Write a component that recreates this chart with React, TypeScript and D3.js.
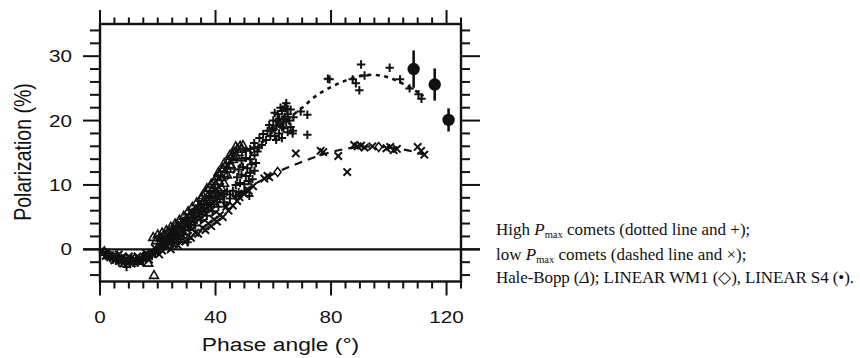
import React from "react";
import * as d3 from "d3";

// ---- axis ticks ----
const xMajorTicks = [0, 40, 80, 120];
const yMajorTicks = [0, 10, 20, 30];
const xMinorTicks = d3.range(0, 126, 5);
const yMinorTicks = d3.range(-4, 35, 2);

// ---- High Pmax comets (+) ----
const highPmaxPoints: [number, number][] = [
  [1, -0.4], [1.5, -0.9], [2, -0.5], [2.5, -1.2], [3, -0.8], [3.5, -1.4], [4, -1.0], [4.5, -1.6],
  [5, -1.2], [5.5, -1.8], [6, -1.4], [6.5, -2.0], [7, -1.5], [7.5, -2.1], [8, -1.7], [8.5, -1.3],
  [9, -2.0], [9.2, -2.75], [10, -1.8], [10.5, -2.3], [11, -1.6], [11.5, -2.1], [12, -1.9], [12.5, -1.5],
  [13, -2.0], [13.5, -1.6], [14, -1.8], [14.5, -1.3], [15, -1.5], [15.5, -1.0], [16, -1.4], [16.5, -0.9],
  [17, -1.2], [17.5, -0.6], [18, -1.0], [18.5, -0.4], [19, -0.7], [19.5, -0.1], [20, -0.4], [20.5, 0.3],
  [21, 0.6], [21.5, 0.2], [22, 1.0], [22.5, 0.5], [23, 1.4], [23.5, 0.9], [24, 1.7], [24.5, 1.2],
  [25, 2.1], [25.5, 1.5], [26, 2.4], [26.5, 1.9], [27, 2.8], [27.5, 2.2], [28, 3.2], [28.5, 2.6],
  [29, 3.6], [29.5, 3.0], [30, 4.0], [30.3, 1.1], [30.5, 3.4], [31, 4.4], [31.5, 3.8], [32, 4.8],
  [32.5, 4.2], [33, 5.2], [33.5, 4.6], [34, 5.6], [34.5, 5.0], [35, 6.0], [35.5, 5.4], [36, 6.4],
  [36.5, 5.8], [37, 6.8], [37.5, 6.2], [38, 7.2], [38.5, 6.6], [39, 7.6], [39.5, 7.0], [40, 8.0],
  [40.5, 7.4], [41, 8.4], [41.5, 7.8], [42, 8.8], [42.5, 8.2], [43, 8.6], [44, 9.0], [45, 8.5],
  [46, 9.1], [47, 8.3], [48, 8.9], [49, 8.6], [50, 9.0], [51.7, 8.3],
  [22, 1.5], [24, 2.3], [26, 3.0], [28, 4.0], [30, 4.9], [32, 5.8], [34, 6.7], [36, 7.5], [38, 8.3],
  [25, 1.0], [27, 1.7], [29, 2.3], [31, 3.0], [33, 3.7], [35, 4.5], [37, 5.2], [39, 5.9], [41, 6.6],
  [43, 7.3], [45, 7.9],
  [47, 10.0], [48.5, 10.3], [50, 10.1], [51.5, 10.6], [52.8, 10.9], [47.5, 11.2], [49, 11.6], [50.5, 11.4],
  [52, 11.9], [53.5, 12.2], [48, 12.4], [49.5, 12.8], [51, 12.6], [52.5, 13.2], [54, 13.4], [49, 13.8],
  [50.5, 14.2], [52, 14.0], [53.5, 14.6], [50.5, 15.3], [52, 15.6], [53.5, 15.8], [54.5, 15.2],
  [53.4, 16.5], [55.2, 17.3], [56, 16.2], [56.5, 17.9], [57.5, 17.0], [58, 18.4], [58.6, 19.3], [59, 17.6], [55, 15.8],
  [59.5, 18.5], [60, 20.0], [60.5, 17.6], [61, 19.2], [61.5, 21.0], [62, 18.0], [62, 20.3], [62.5, 19.5],
  [63, 21.5], [63, 17.3], [63.5, 18.8], [64, 20.6], [64, 22.2], [64.5, 19.8], [64.5, 22.7], [65, 21.0],
  [65, 18.2], [65.5, 20.0], [66, 21.7], [66, 19.0], [66.7, 18.0], [67, 20.5], [63.5, 20.2], [62.5, 22.0],
  [61, 17.0], [60, 18.8], [61.5, 19.9], [63, 19.0], [64.8, 21.8], [60.5, 21.2],
  [69.5, 21.4], [71.8, 20.9], [66.8, 18.4], [71.8, 17.8],
  [78.9, 26.5], [79.5, 26.4], [87.5, 26.4], [88.6, 25.8], [89.8, 24.7], [90.4, 28.7], [91.6, 27.0],
  [100.3, 28.2], [103.9, 26.4], [107.2, 25.0], [110.3, 24.1], [111.3, 23.4],
];

// ---- Low Pmax comets (x) ----
const lowPmaxPoints: [number, number][] = [
  [2, -1.0], [3, -1.0], [5, -1.7], [6.5, -0.8], [7, -1.4], [8, -2.2], [10, -1.1], [11, -2.2], [12, -1.5],
  [13, -1.1], [14, -2.1], [16, -1.0], [16, -0.6], [17, -1.6], [19, 0.2], [20.5, -0.8],
  [21.5, -0.2], [23, 0.3], [24.5, 0.0], [25.5, 0.8], [27, 0.6], [28, 1.4], [29.5, 1.2], [30.5, 2.1],
  [31.5, 1.8], [33, 2.6], [34, 2.4], [35.5, 3.3], [36.5, 3.0], [37.5, 4.0], [38.5, 3.6], [39.5, 4.6],
  [40.5, 4.3], [41.5, 5.3], [42.5, 5.0], [43.7, 6.6], [44.5, 6.0], [46, 6.8], [47.5, 7.5], [48.3, 8.1],
  [50, 8.6], [51.5, 9.1], [53, 9.8],
  [56.9, 11.0], [58, 11.4], [58.6, 11.2], [67.8, 14.9], [76.4, 15.3], [77.3, 15.1], [82.5, 14.5],
  [85.6, 12.0], [88, 16.2], [89.2, 16.0], [90.4, 16.1], [91.6, 15.8], [94.3, 16.0], [99.2, 15.7],
  [100.5, 15.9], [101.7, 15.4], [102.8, 15.6], [110, 15.9], [111.2, 15.3], [112.3, 14.7],
];

// ---- Hale-Bopp (triangles) ----
const haleBoppPoints: [number, number][] = [
  [1.5, -0.3], [3, -0.7], [4.5, -1.1], [6, -1.0], [7.5, -1.5], [9, -1.4], [10.5, -1.7], [12, -1.4],
  [13.5, -1.8], [15, -1.2], [16.7, -2.1], [18.7, -4.0],
  [18.4, 1.9], [19.5, 1.4], [20, 2.3], [21, 1.8], [21.5, 2.6], [22.5, 2.2], [22.8, 1.6], [23, 3.0],
  [24, 2.7], [24.5, 3.5], [25.5, 3.2], [26, 4.0], [27, 3.7], [27.5, 4.6], [28.5, 4.2], [29, 5.2],
  [30, 4.8], [30.5, 5.9], [31.5, 5.5], [32, 6.6], [33, 6.1], [33.5, 7.3], [34.5, 6.9], [35, 8.0],
  [35.6, 8.4], [36, 7.6], [36.5, 8.8], [37.5, 8.4], [38, 9.6], [38.5, 10.2], [39, 9.2], [39.5, 10.6],
  [40, 10.0], [40.5, 11.3], [41, 10.6], [41.5, 11.8], [42, 11.2], [42.5, 12.5], [43, 11.8], [43.5, 13.1],
  [44, 12.5], [44.5, 13.8], [45, 13.2], [45.5, 14.5], [46, 14.0], [46.5, 15.1], [47, 14.6], [47.5, 15.6],
  [48, 15.1], [48.5, 16.1], [49, 15.6], [49.5, 16.2], [43, 10.3], [42, 9.6], [41, 9.2], [40, 8.8],
  [21, 1.2], [23, 1.9], [25, 2.6], [27, 3.3], [29, 4.1], [31, 4.9], [33, 5.7], [35, 6.6], [37, 7.5], [39, 8.4],
  [37, 9.5], [41, 12.0], [43, 13.4], [45, 14.7], [47, 16.0], [44, 11.6], [45.5, 13.0], [46.5, 14.3],
];

// ---- LINEAR WM1 (diamonds) ----
const wm1Points: [number, number][] = [[61.5, 12.0], [96.5, 15.9]];

// ---- LINEAR S4 (filled circles with error bars) ----
const s4Points: [number, number, number][] = [[108.6, 28.0, 2.9], [115.9, 25.6, 2.5], [120.7, 20.1, 1.8]];

// ---- fitted curves ----
const highFit: [number, number][] = [
  [0, 0], [3, -0.9], [6, -1.4], [9, -1.7], [12, -1.7], [15, -1.4], [18, -0.8], [21, 0.2], [25, 1.8],
  [30, 4.0], [35, 6.4], [40, 8.9], [45, 11.4], [50, 13.8], [55, 16.1], [60, 18.2], [65, 20.2], [70, 22.0],
  [75, 23.9], [80, 25.2], [85, 26.2], [90, 26.9], [95, 27.1], [100, 26.7], [105, 25.7], [110, 24.4], [112, 23.8],
];
const lowFit: [number, number][] = [
  [0, 0], [3, -0.8], [6, -1.3], [9, -1.6], [12, -1.6], [15, -1.3], [18, -0.7], [21, 0.1], [25, 1.1],
  [30, 2.6], [35, 4.1], [40, 5.7], [45, 7.4], [50, 9.1], [55, 10.5], [60, 11.7], [65, 12.7], [70, 13.6],
  [75, 14.4], [80, 15.1], [85, 15.6], [90, 15.9], [95, 16.0], [100, 15.8], [105, 15.5], [110, 15.0], [114.5, 14.3],
];

const INK = "#111";
const SANS = "'Liberation Sans', Arial, Helvetica, sans-serif";
const SERIF = "'Liberation Serif', 'Times New Roman', Times, serif";

export default function App() {
  const x = d3.scaleLinear().domain([0, 125]).range([100, 461]);
  const y = d3.scaleLinear().domain([-5, 35]).range([281.5, 24]);
  const [x0, x1] = x.range();
  const [yb, yt] = y.range();

  const line = d3
    .line<[number, number]>()
    .x((d) => x(d[0]))
    .y((d) => y(d[1]))
    .curve(d3.curveCatmullRom);

  const plus = (d: [number, number]) => {
    const cx = x(d[0]), cy = y(d[1]), r = 4.2;
    return `M${cx - r},${cy}H${cx + r}M${cx},${cy - r}V${cy + r}`;
  };
  const times = (d: [number, number]) => {
    const cx = x(d[0]), cy = y(d[1]), r = 3.7;
    return `M${cx - r},${cy - r}L${cx + r},${cy + r}M${cx - r},${cy + r}L${cx + r},${cy - r}`;
  };
  const tri = (d: [number, number]) => {
    const cx = x(d[0]), cy = y(d[1]), s = 4.4;
    return `M${cx},${cy - s}L${cx + s},${cy + s * 0.75}L${cx - s},${cy + s * 0.75}Z`;
  };
  const diamond = (d: [number, number]) => {
    const cx = x(d[0]), cy = y(d[1]);
    return `M${cx},${cy - 4.5}L${cx + 3.5},${cy}L${cx},${cy + 4.5}L${cx - 3.5},${cy}Z`;
  };

  const isMajorX = (v: number) => xMajorTicks.includes(v);
  const isMajorY = (v: number) => yMajorTicks.includes(v);

  return (
    <svg
      width={860}
      height={358}
      viewBox="0 0 860 358"
      style={{ position: "absolute", left: 0, top: 0, background: "#fff" }}
    >
      <rect x={0} y={0} width={860} height={358} fill="#fff" />

      {/* fitted curves */}
      <path d={line(highFit) || ""} fill="none" stroke={INK} strokeWidth={2.6} strokeDasharray="4,4.5" />
      <path d={line(lowFit) || ""} fill="none" stroke={INK} strokeWidth={2.2} strokeDasharray="8,6" />

      {/* zero line */}
      <line x1={83} x2={480} y1={y(0)} y2={y(0)} stroke={INK} strokeWidth={2.2} />

      {/* data */}
      <g fill="none" stroke={INK} strokeWidth={1.6}>
        {haleBoppPoints.map((d, i) => (
          <path key={"t" + i} d={tri(d)} />
        ))}
      </g>
      <g fill="none" stroke={INK} strokeWidth={2}>
        {highPmaxPoints.map((d, i) => (
          <path key={"p" + i} d={plus(d)} />
        ))}
        {lowPmaxPoints.map((d, i) => (
          <path key={"x" + i} d={times(d)} />
        ))}
      </g>
      <g fill="#fff" stroke={INK} strokeWidth={1.5}>
        {wm1Points.map((d, i) => (
          <path key={"d" + i} d={diamond(d)} />
        ))}
      </g>
      <g>
        {s4Points.map((d, i) => (
          <g key={"s" + i}>
            <line x1={x(d[0])} x2={x(d[0])} y1={y(d[1] + d[2])} y2={y(d[1] - d[2])} stroke={INK} strokeWidth={2.6} />
            <circle cx={x(d[0])} cy={y(d[1])} r={6.2} fill={INK} />
          </g>
        ))}
      </g>

      {/* frame */}
      <rect x={x0} y={yt} width={x1 - x0} height={yb - yt} fill="none" stroke={INK} strokeWidth={2.4} />

      {/* ticks (outward on all four sides) */}
      <g stroke={INK} strokeWidth={2}>
        {xMinorTicks.map((v) => (
          <g key={"xt" + v}>
            <line x1={x(v)} x2={x(v)} y1={yb} y2={yb + (isMajorX(v) ? 14 : 7)} />
            <line x1={x(v)} x2={x(v)} y1={yt} y2={yt - (isMajorX(v) ? 14 : 6.5)} />
          </g>
        ))}
        {yMinorTicks.map((v) => (
          <g key={"yt" + v}>
            <line x1={x0} x2={x0 - (isMajorY(v) ? 17 : 10)} y1={y(v)} y2={y(v)} />
            <line x1={x1} x2={x1 + (isMajorY(v) ? 19 : 9)} y1={y(v)} y2={y(v)} />
          </g>
        ))}
      </g>

      {/* tick labels */}
      <g fill={INK} fontFamily={SANS} fontSize={16.5}>
        {xMajorTicks.map((v) => (
          <g key={"xl" + v} transform={`translate(${x(v)},323) scale(1.25,1)`}>
            <text textAnchor="middle">{v}</text>
          </g>
        ))}
        {yMajorTicks.map((v) => (
          <g key={"yl" + v} transform={`translate(72,${y(v) + 6}) scale(1.25,1)`}>
            <text textAnchor="end">{v}</text>
          </g>
        ))}
      </g>

      {/* axis titles */}
      <g transform={`translate(${(x0 + x1) / 2},351) scale(1.2,1)`}>
        <text textAnchor="middle" fill={INK} fontFamily={SANS} fontSize={19}>
          Phase angle (°)
        </text>
      </g>
      <g transform={`translate(31,${152}) scale(1.2,1)`}>
        <text transform="rotate(-90)" textAnchor="middle" fill={INK} fontFamily={SANS} fontSize={19.5}>
          Polarization (%)
        </text>
      </g>

      {/* caption / legend */}
      <g fill={INK} fontFamily={SERIF} fontSize={17}>
        <text x={496} y={235}>
          High <tspan fontStyle="italic">P</tspan>
          <tspan fontSize={10.5} dy={3}>max</tspan>
          <tspan dy={-3}> comets (dotted line and +);</tspan>
        </text>
        <text x={496} y={259.5}>
          low <tspan fontStyle="italic">P</tspan>
          <tspan fontSize={10.5} dy={3}>max</tspan>
          <tspan dy={-3}> comets (dashed line and ×);</tspan>
        </text>
        <text x={496} y={283} textLength={358} lengthAdjust="spacing">
          Hale-Bopp (<tspan fontStyle="italic">Δ</tspan>); LINEAR WM1 (◇), LINEAR S4 (•).
        </text>
      </g>
    </svg>
  );
}
